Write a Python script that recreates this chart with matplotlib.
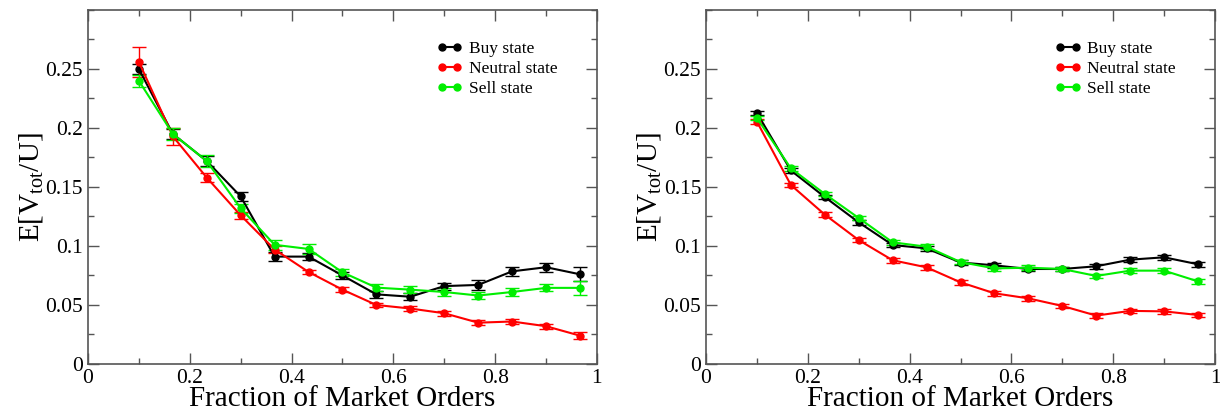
import numpy as np
import matplotlib
matplotlib.use('Agg')
from matplotlib import pyplot as plt
from matplotlib.ticker import MultipleLocator
from matplotlib.lines import Line2D

plt.rcParams['font.family'] = ['Liberation Serif', 'DejaVu Serif']
plt.rcParams['mathtext.fontset'] = 'custom'
plt.rcParams['mathtext.rm'] = 'Liberation Serif'
plt.rcParams['mathtext.it'] = 'Liberation Serif:italic'

# fraction of market orders
frac = [0.1, 0.1667, 0.2333, 0.3, 0.3667, 0.4333, 0.5,
        0.5667, 0.6333, 0.7, 0.7667, 0.8333, 0.9, 0.9667]

# left panel
buy_l = [0.250, 0.195, 0.172, 0.142, 0.091, 0.091, 0.075,
         0.059, 0.057, 0.066, 0.067, 0.0785, 0.082, 0.076]
buy_l_err = [0.004, 0.004, 0.004, 0.004, 0.004, 0.003, 0.003,
             0.003, 0.003, 0.003, 0.004, 0.004, 0.004, 0.006]
neu_l = [0.256, 0.193, 0.158, 0.126, 0.097, 0.078, 0.063,
         0.050, 0.047, 0.043, 0.035, 0.036, 0.032, 0.024]
neu_l_err = [0.013, 0.007, 0.004, 0.003, 0.003, 0.002, 0.002,
             0.002, 0.002, 0.002, 0.002, 0.002, 0.002, 0.003]
sell_l = [0.240, 0.195, 0.172, 0.132, 0.101, 0.0975, 0.0777,
          0.0647, 0.063, 0.061, 0.058, 0.061, 0.0645, 0.0645]
sell_l_err = [0.005, 0.005, 0.005, 0.004, 0.004, 0.004, 0.003,
              0.003, 0.003, 0.003, 0.003, 0.003, 0.003, 0.006]

# right panel
buy_r = [0.2127, 0.164, 0.1415, 0.120, 0.1008, 0.098, 0.086,
         0.0836, 0.0805, 0.0805, 0.0828, 0.0884, 0.0904, 0.0845]
neu_r = [0.2054, 0.1517, 0.1266, 0.105, 0.0879, 0.0819, 0.0692,
         0.0599, 0.0556, 0.0492, 0.041, 0.045, 0.0446, 0.0415]
sell_r = [0.2085, 0.1658, 0.1441, 0.1237, 0.1031, 0.0994, 0.0864,
          0.081, 0.0816, 0.0805, 0.0746, 0.0791, 0.0791, 0.070]
err_r = [0.002] * 14

labels = ['Buy state', 'Neutral state', 'Sell state']
colors = ['black', 'red', '#00ee00']

fig = plt.figure(figsize=(12.2, 4.11), dpi=100)
ax1 = fig.add_axes([0.0721, 0.1144, 0.4172, 0.8613])
ax2 = fig.add_axes([0.5787, 0.1144, 0.4172, 0.8613])

panels = [
    (ax1, [buy_l, neu_l, sell_l], [buy_l_err, neu_l_err, sell_l_err]),
    (ax2, [buy_r, neu_r, sell_r], [err_r, err_r, err_r]),
]

for ax, ys, errs in panels:
    for y, e, c in zip(ys, errs, colors):
        ax.errorbar(frac, y, yerr=e, color=c, marker='o', markersize=5,
                    linewidth=1.5, capsize=5, elinewidth=1, capthick=1)
    ax.set_xlim(0, 1)
    ax.set_ylim(0, 0.3)
    ax.set_xticks([0, 0.2, 0.4, 0.6, 0.8, 1])
    ax.set_xticklabels(['0', '0.2', '0.4', '0.6', '0.8', '1'])
    ax.set_yticks([0, 0.05, 0.1, 0.15, 0.2, 0.25])
    ax.set_yticklabels(['0', '0.05', '0.1', '0.15', '0.2', '0.25'])
    ax.xaxis.set_minor_locator(MultipleLocator(0.1))
    ax.yaxis.set_minor_locator(MultipleLocator(0.025))
    ax.tick_params(which='both', direction='in', top=True, right=True,
                   labelsize=15.5, color='#555555')
    ax.tick_params(which='major', length=8, width=1)
    ax.tick_params(which='minor', length=4, width=1)
    for s in ax.spines.values():
        s.set_color('#555555')
        s.set_linewidth(1.2)
    ax.set_xlabel('Fraction of Market Orders', fontsize=21, labelpad=-1)
    ax.set_ylabel(r'E[V$_{\mathrm{tot}}$/U]', fontsize=21, labelpad=0)
    handles = [Line2D([0], [0], color=c, marker='o', markersize=5,
                      linewidth=1.5) for c in colors]
    ax.legend(handles, labels, loc='upper left', bbox_to_anchor=(0.685, 0.913),
              frameon=False, fontsize=12.5, numpoints=2, handlelength=1.5,
              handletextpad=0.35, labelspacing=0.22, borderpad=0,
              borderaxespad=0)

fig.savefig('out.png', dpi=100)
